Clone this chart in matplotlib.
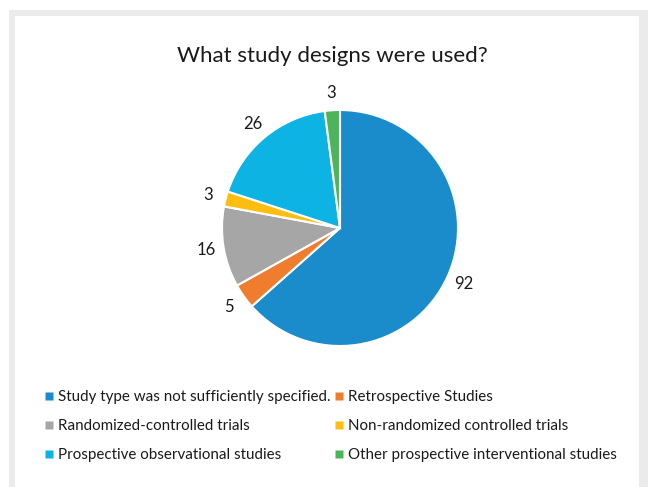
import matplotlib
matplotlib.use('Agg')
import matplotlib.pyplot as plt
from matplotlib.lines import Line2D
from matplotlib.patches import Rectangle

plt.rcParams['font.family'] = ['Lato', 'DejaVu Sans']

labels = ['Study type was not sufficiently specified.', 'Retrospective Studies',
          'Randomized-controlled trials', 'Non-randomized controlled trials',
          'Prospective observational studies', 'Other prospective interventional studies']
counts = [92, 5, 16, 3, 26, 3]
colors = ['#1a8bcb', '#f07d2e', '#a6a6a6', '#fdbe10', '#0db3e2', '#4db45c']

W, H = 648, 487
fig = plt.figure(figsize=(W / 100, H / 100), dpi=100)

# grey frame with white panel
fig.patches.append(Rectangle((9 / W, 0), 1 - 9 / W, 1 - 10 / H, transform=fig.transFigure,
                             facecolor='#ebebeb', edgecolor='none', zorder=-2))
fig.patches.append(Rectangle((15 / W, 0), 624 / W, 1 - 16 / H, transform=fig.transFigure,
                             facecolor='white', edgecolor='none', zorder=-1))

fig.text(332 / W, 1 - 56 / H, 'What study designs were used?', ha='center', va='center',
         fontsize=16, color='#1a1a1a')

cx, cy, r = 340, 228, 118
ax = fig.add_axes([(cx - r) / W, (H - cy - r) / H, 2 * r / W, 2 * r / H])
wedges, texts = ax.pie(counts, colors=colors, startangle=90, counterclock=False,
                       labels=[str(c) for c in counts], labeldistance=1.15,
                       wedgeprops=dict(edgecolor='white', linewidth=1.5),
                       textprops=dict(fontsize=12, color='#1a1a1a'))
for t in texts:
    t.set_ha('center')
    t.set_va('center')
ax.set_xlim(-1, 1)
ax.set_ylim(-1, 1)
ax.set_aspect('equal')
ax.axis('off')

order = [0, 2, 4, 1, 3, 5]
handles = [Line2D([], [], marker='s', linestyle='none', markersize=5.5,
                  markerfacecolor=colors[i], markeredgecolor='none') for i in order]
fig.legend(handles, [labels[i] for i in order], ncol=2, loc='upper left',
           bbox_to_anchor=(38 / W, 1 - 384 / H), frameon=False, fontsize=10.9,
           handlelength=0.6, handletextpad=0.35, labelspacing=1.0, columnspacing=0.2,
           borderaxespad=0, labelcolor='#1a1a1a')

fig.savefig('out.png', dpi=100)
